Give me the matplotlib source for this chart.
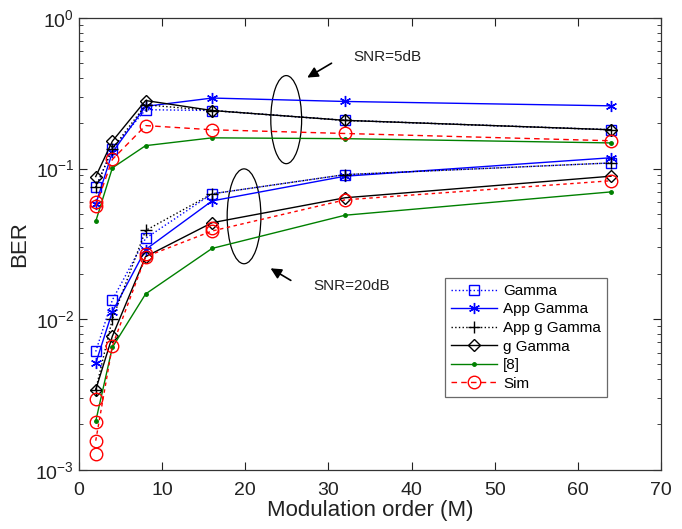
import matplotlib
matplotlib.use("Agg")
import matplotlib.pyplot as plt
from matplotlib.patches import Ellipse
from matplotlib.ticker import LogLocator, NullFormatter

plt.rcParams['font.family'] = ['Liberation Sans', 'DejaVu Sans']

M = [2, 4, 8, 16, 32, 64]

# SNR = 5 dB
gamma_5 = [0.075, 0.135, 0.246, 0.243, 0.209, 0.181]
app_gamma_5 = [0.058, 0.128, 0.259, 0.294, 0.279, 0.261]
app_g_gamma_5 = [0.075, 0.135, 0.265, 0.243, 0.209, 0.181]
g_gamma_5 = [0.0885, 0.152, 0.283, 0.243, 0.209, 0.181]
ref8_5 = [0.0446, 0.101, 0.142, 0.160, 0.158, 0.148]
sim_5 = [0.056, 0.115, 0.193, 0.181, 0.171, 0.153]

# SNR = 20 dB
gamma_20 = [0.0061, 0.0134, 0.0344, 0.068, 0.0912, 0.109]
app_gamma_20 = [0.0051, 0.0112, 0.029, 0.061, 0.089, 0.118]
app_g_gamma_20 = [0.0034, 0.0100, 0.0388, 0.068, 0.0912, 0.109]
g_gamma_20 = [0.0034, 0.0077, 0.026, 0.0437, 0.064, 0.089]
ref8_20 = [0.0021, 0.0065, 0.0147, 0.0295, 0.049, 0.070]
sim_20 = [0.00156, 0.00665, 0.026, 0.0385, 0.062, 0.083]

# additional simulated points
sim_extra_M = [2, 2, 2, 2, 16, 8]
sim_extra = [0.060, 0.00295, 0.00207, 0.00128, 0.040, 0.027]

labels = ['Gamma', 'App Gamma', 'App g Gamma', 'g Gamma', '[8]', 'Sim']

fig = plt.figure(figsize=(6.82, 5.29), dpi=100)
ax = fig.add_axes([0.116, 0.112, 0.853, 0.854])

green = (0, 0.5, 0)
red_ls = (0, (2.5, 2.5))
asterisk = (6, 2, 0)

styles = [
    dict(color='b', ls=':', marker='s', mfc='none', ms=7, lw=1.0),
    dict(color='b', ls='-', marker=asterisk, mfc='none', ms=8, lw=1.0, mew=1.0),
    dict(color='k', ls=':', marker='+', mfc='none', ms=9, lw=1.0),
    dict(color='k', ls='-', marker='D', mfc='none', ms=6.5, lw=1.0),
    dict(color=green, ls='-', marker='.', ms=5, lw=1.0),
    dict(color='r', ls=red_ls, marker='o', mfc='none', ms=9, lw=1.0),
]

series_5 = [gamma_5, app_gamma_5, app_g_gamma_5, g_gamma_5, ref8_5, sim_5]
series_20 = [gamma_20, app_gamma_20, app_g_gamma_20, g_gamma_20, ref8_20, sim_20]

handles = []
for lab, st, y5, y20 in zip(labels, styles, series_5, series_20):
    st5 = dict(st)
    if lab == 'Sim':
        st5['ls'] = (0, (4, 3))
    h, = ax.semilogy(M, y5, label=lab, **st5)
    ax.semilogy(M, y20, **st)
    handles.append(h)

ax.semilogy(sim_extra_M, sim_extra, ls='none', marker='o', mfc='none',
            color='r', ms=9)

ax.set_xlim(0, 70)
ax.set_ylim(1e-3, 1)
ax.set_xticks(range(0, 71, 10))
ax.yaxis.set_major_locator(LogLocator(base=10, numticks=10))
ax.yaxis.set_minor_locator(LogLocator(base=10, subs=range(2, 10), numticks=20))
ax.yaxis.set_minor_formatter(NullFormatter())
ax.tick_params(which='both', direction='in', top=True, right=True,
               labelsize=14, colors='#222222')
ax.tick_params(axis='x', which='major', pad=9)
ax.tick_params(which='major', length=6, width=0.8)
ax.tick_params(which='minor', length=3, width=0.6)
for s in ax.spines.values():
    s.set_color('#333333')
    s.set_linewidth(0.9)

ax.set_xlabel('Modulation order (M)', fontsize=16, color='#222222')
ax.set_ylabel('BER', fontsize=16, color='#222222')
ax.xaxis.set_label_coords(0.5, -0.068)
ax.yaxis.set_label_coords(-0.085, 0.5)

# annotations
ax.add_patch(Ellipse((0.356, 0.775), 0.053, 0.195, transform=ax.transAxes,
                     fill=False, ec='k', lw=0.9))
ax.add_patch(Ellipse((0.2835, 0.561), 0.058, 0.210, transform=ax.transAxes,
                     fill=False, ec='k', lw=0.9))
ax.annotate('', xy=(0.388, 0.865), xytext=(0.438, 0.903), xycoords='axes fraction',
            arrowprops=dict(arrowstyle='-|>', color='k', lw=1.2, mutation_scale=16))
ax.text(0.471, 0.914, 'SNR=5dB', transform=ax.transAxes, fontsize=11,
        va='center', ha='left', color='#222222')
ax.annotate('', xy=(0.325, 0.449), xytext=(0.368, 0.416), xycoords='axes fraction',
            arrowprops=dict(arrowstyle='-|>', color='k', lw=1.2, mutation_scale=16))
ax.text(0.402, 0.407, 'SNR=20dB', transform=ax.transAxes, fontsize=11,
        va='center', ha='left', color='#222222')

leg = ax.legend(handles=handles, loc='upper left', bbox_to_anchor=(0.629, 0.425),
                borderaxespad=0.0,
                fontsize=11, frameon=True, fancybox=False, edgecolor='#444444',
                handlelength=3.0, borderpad=0.4, labelspacing=0.3,
                handletextpad=0.4)
leg.get_frame().set_linewidth(0.9)

fig.savefig('out.png', dpi=100)
